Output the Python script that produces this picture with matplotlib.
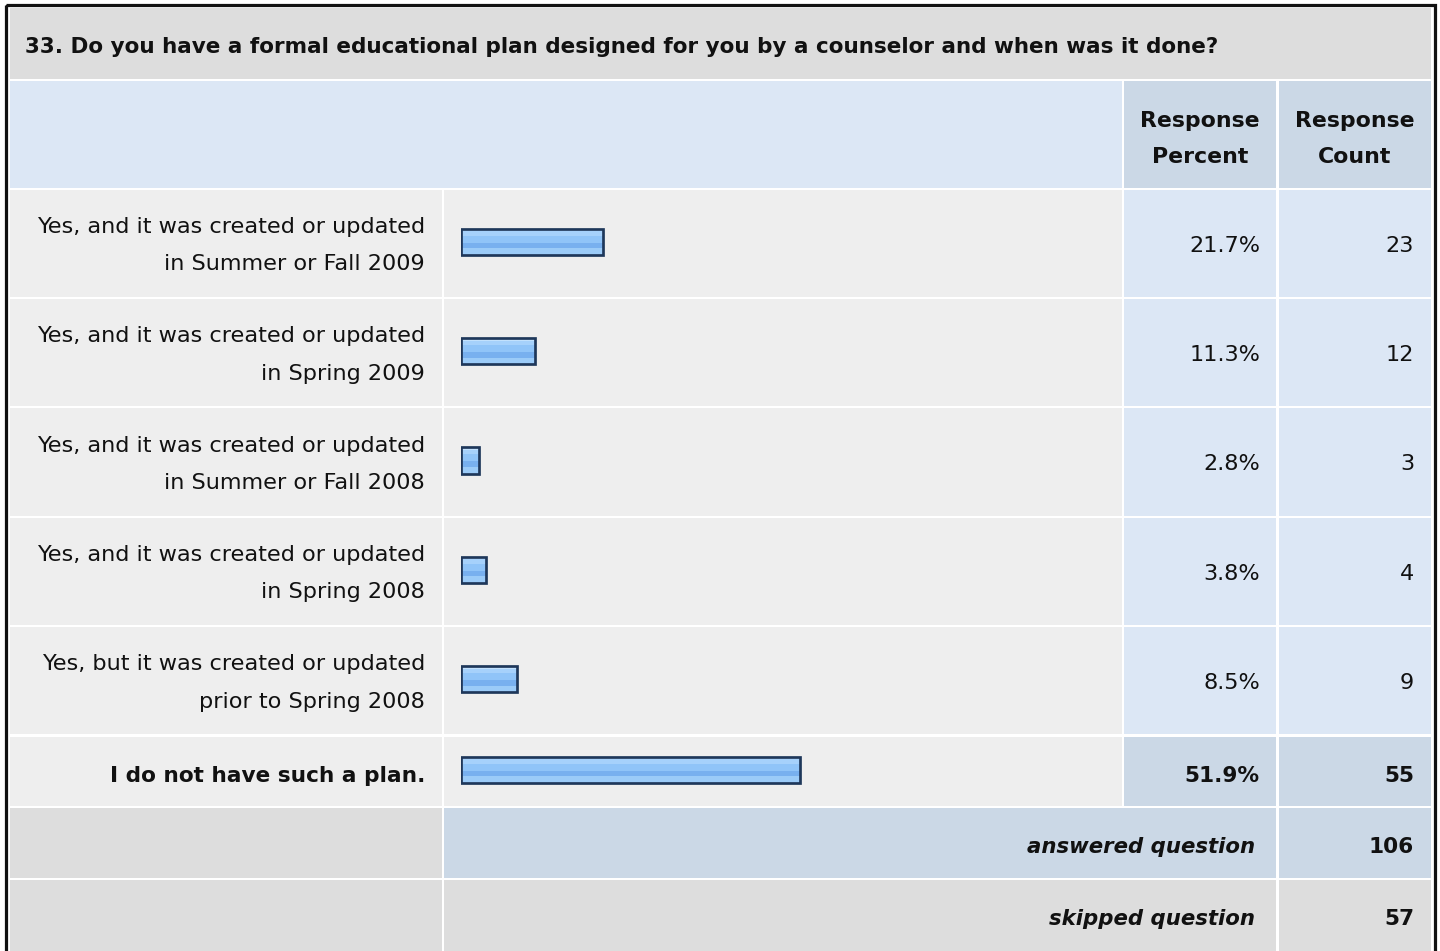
import matplotlib
matplotlib.use("Agg")
import matplotlib.pyplot as plt
from matplotlib.patches import Rectangle

# ---------------- data ----------------
title = "33. Do you have a formal educational plan designed for you by a counselor and when was it done?"
categories = [
    "Yes, and it was created or updated\nin Summer or Fall 2009",
    "Yes, and it was created or updated\nin Spring 2009",
    "Yes, and it was created or updated\nin Summer or Fall 2008",
    "Yes, and it was created or updated\nin Spring 2008",
    "Yes, but it was created or updated\nprior to Spring 2008",
    "I do not have such a plan.",
]
percents = [21.7, 11.3, 2.8, 3.8, 8.5, 51.9]
counts = [23, 12, 3, 4, 9, 55]
header_labels = ["Response\nPercent", "Response\nCount"]
summary_labels = ["answered question", "skipped question"]
summary_counts = [106, 57]

# ---------------- layout (pixels) ----------------
W, H = 1440, 951
FONT = "DejaVu Sans"
PX = 0.72  # px -> pt at 100 dpi
FS_REG = 22.4 * PX
FS_BOLD = 21.7 * PX
FS_TITLE = 21.5 * PX
FS_SUM = 21.3 * PX

GRAY = "#dddddd"
LIGHT = "#eeeeee"
BLUE = "#dce7f5"
BLUE2 = "#cbd8e6"

fig = plt.figure(figsize=(W / 100, H / 100), dpi=100)
fig.patch.set_facecolor("white")
ax = fig.add_axes([0, 0, 1, 1])
ax.set_xlim(0, W)
ax.set_ylim(H, 0)
ax.axis("off")


def cell(x0, y0, x1, y1, color):
    ax.add_patch(Rectangle((x0, y0), x1 - x0, y1 - y0, facecolor=color,
                           edgecolor="none", zorder=1))


def txt(x, y, s, ha="left", weight="normal", style="normal", fs=None):
    if fs is None:
        fs = FS_BOLD if weight == "bold" else FS_REG
    ax.text(x, y, s, ha=ha, va="baseline", fontsize=fs, family=FONT,
            fontweight=weight, fontstyle=style, color="#111111", zorder=5)


# columns
LX0, LX1 = 10, 441.5
BX0, BX1 = 444, 1121.5
PX0, PX1 = 1124, 1276
CX0, CX1 = 1278.5, 1431

# outer border
ax.add_patch(Rectangle((5.5, 4.7), 1434.5 - 5.5, 1000, facecolor="none",
                       edgecolor="#111111", lw=3.2 * PX, zorder=6))

# title row
cell(LX0, 8, CX1, 78.5, GRAY)
txt(25, 53, title, weight="bold", fs=FS_TITLE)

# header row
cell(LX0, 81, BX1, 188, BLUE)
cell(PX0, 81, PX1, 188, BLUE2)
cell(CX0, 81, CX1, 188, BLUE2)
for lab, (a, b) in zip(header_labels, [(PX0, PX1), (CX0, CX1)]):
    l1, l2 = lab.split("\n")
    txt((a + b) / 2, 127, l1, ha="center", weight="bold", fs=22 * PX)
    txt((a + b) / 2, 163, l2, ha="center", weight="bold", fs=22 * PX)

# data rows
row_tops = [190, 299, 408, 518, 627, 737]
row_bots = [296.5, 406, 515.5, 624.5, 734, 805.5]
imax = percents.index(max(percents))
centers = []
for i, (cat, p, c) in enumerate(zip(categories, percents, counts)):
    t, b = row_tops[i], row_bots[i]
    yc = (t + b) / 2
    centers.append(yc - 1.5)
    bold = (i == imax)
    cell(LX0, t, LX1, b, LIGHT)
    cell(BX0, t, BX1, b, LIGHT)
    cell(PX0, t, PX1, b, BLUE2 if bold else BLUE)
    cell(CX0, t, CX1, b, BLUE2 if bold else BLUE)
    w = "bold" if bold else "normal"
    lines = cat.split("\n")
    if len(lines) == 2:
        txt(425, yc - 10, lines[0], ha="right", weight=w)
        txt(425, yc + 27, lines[1], ha="right", weight=w)
    else:
        txt(425, yc + 11, lines[0], ha="right", weight=w)
    off = 11 if (b - t) < 80 else 8.5
    txt(1260, yc + off, f"{p:.1f}%", ha="right", weight=w)
    txt(1414, yc + off, f"{c}", ha="right", weight=w)

# summary rows
sum_tops = [808, 880]
sum_bots = [878, 960]
sum_colors = [BLUE2, GRAY]
sum_base = [853, 925]
for lab, n, t, b, col, yb in zip(summary_labels, summary_counts, sum_tops,
                                 sum_bots, sum_colors, sum_base):
    cell(LX0, t, LX1, b, GRAY)
    cell(BX0, t, PX1, b, col)
    cell(CX0, t, CX1, b, col)
    txt(1255, yb, lab, ha="right", weight="bold", style="italic", fs=FS_SUM)
    txt(1414, yb, f"{n}", ha="right", weight="bold")

# ---------------- bars ----------------
bx = fig.add_axes([461.0 / W, 0, 653 / W, 1])
bx.set_xlim(0, 100)
bx.set_ylim(H, 0)
bx.axis("off")
bx.patch.set_alpha(0)

BH = 26.5
# gloss stripes: (offset top, offset bottom, colour) relative to bar centre
stripes = [
    (-13.25, -10.5, "#c2e1fd"),
    (-10.5, -6.0, "#a6d1fb"),
    (-6.0, 1.0, "#90c4f8"),
    (1.0, 6.5, "#78b0ef"),
    (6.5, 13.25, "#9bcbf8"),
]
for y0, y1, col in stripes:
    bx.barh([yc + (y0 + y1) / 2 for yc in centers], percents, height=y1 - y0,
            left=0, color=col, edgecolor="none", zorder=2)
bx.barh(centers, percents, height=BH, left=0, facecolor="none",
        edgecolor="#1e375a", linewidth=2.7 * PX, zorder=3)

fig.savefig("out.png", dpi=100, facecolor="white")
